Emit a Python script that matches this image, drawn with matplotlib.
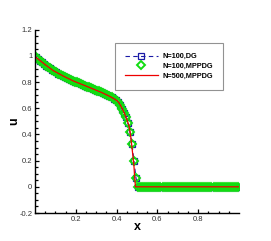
import numpy as np
import matplotlib
matplotlib.use("Agg")
from matplotlib import pyplot as plt

plt.rcParams['font.family'] = ['Liberation Sans', 'DejaVu Sans']

# cell centres for N=100
x100 = np.arange(100) * 0.01 + 0.005

# smooth (rarefaction) part, x = 0.005 .. 0.395
u_smooth = [0.990, 0.976, 0.963, 0.950, 0.938, 0.926, 0.915, 0.904, 0.893, 0.883,
            0.874, 0.865, 0.856, 0.848, 0.840, 0.832, 0.825, 0.818, 0.811, 0.804,
            0.798, 0.791, 0.785, 0.779, 0.772, 0.766, 0.760, 0.753, 0.747, 0.741,
            0.735, 0.728, 0.721, 0.714, 0.707, 0.700, 0.692, 0.683, 0.673, 0.661]
# front, x = 0.405 .. 0.495
u_dg_front = [0.645, 0.622, 0.596, 0.565, 0.530, 0.485, 0.420, 0.330, 0.200, 0.068]
u_mppdg_front = [0.645, 0.622, 0.595, 0.565, 0.530, 0.484, 0.420, 0.330, 0.200, 0.065]
# x = 0.505 .. 0.995
u_right = [0.0] * 50

u_dg = u_smooth + u_dg_front + u_right
u_mppdg = u_smooth + u_mppdg_front + u_right

# N=500 reference
x500 = [0.001, 0.02, 0.05, 0.09, 0.14, 0.19, 0.24, 0.29, 0.33, 0.37, 0.39, 0.40,
        0.41, 0.42, 0.43, 0.44, 0.45, 0.46, 0.465, 0.47, 0.475, 0.48, 0.485,
        0.488, 0.491, 0.493, 0.999]
u500 = [0.993, 0.970, 0.933, 0.887, 0.845, 0.807, 0.776, 0.744, 0.718, 0.688,
        0.670, 0.660, 0.645, 0.620, 0.590, 0.555, 0.515, 0.470, 0.430, 0.375,
        0.305, 0.235, 0.160, 0.085, 0.025, 0.0, 0.0]

labels = ['N=100,DG', 'N=100,MPPDG', 'N=500,MPPDG']

fig = plt.figure(figsize=(2.71, 2.41), dpi=100)
ax = fig.add_axes([35/271, 1 - 213/241, 204/271, 183.3/241])

ax.plot(x100, u_dg, color='#1a1aa6', ls=(0, (4, 3)), lw=0.8, marker='s', ms=4.0,
        mfc='none', mec='#1a1aa6', mew=0.9, label=labels[0])
ax.plot(x100, u_mppdg, ls='none', marker='D', ms=4.3, mfc='none', mec='#11dd11',
        mew=1.4, label=labels[1])
ax.plot(x500, u500, color='#ee0000', lw=0.9, label=labels[2])

ax.set_xlim(0, 1)
ax.set_ylim(-0.2, 1.2)
ax.set_xticks([0.2, 0.4, 0.6, 0.8])
ax.set_xticklabels(['0.2', '0.4', '0.6', '0.8'])
ax.set_xticks([0.05, 0.1, 0.15, 0.25, 0.3, 0.35, 0.45, 0.5, 0.55, 0.65, 0.7, 0.75,
               0.85, 0.9, 0.95], minor=True)
yt = [-0.2, 0, 0.2, 0.4, 0.6, 0.8, 1.0, 1.2]
ax.set_yticks(yt)
ax.set_yticklabels(['-0.2', '0', '0.2', '0.4', '0.6', '0.8', '1', '1.2'])
ax.set_yticks([v for v in np.arange(-0.15, 1.2, 0.05) if abs(v * 5 - round(v * 5)) > 1e-6],
              minor=True)

for s in ['top', 'right']:
    ax.spines[s].set_visible(False)
for s in ['left', 'bottom']:
    ax.spines[s].set_linewidth(1.0)
ax.tick_params(which='both', direction='in', width=0.9, colors='black',
               labelcolor='#333333', labelsize=5.5)
ax.tick_params(which='major', length=3, pad=2)
ax.tick_params(which='minor', length=1.8)

ax.set_xlabel('x', fontsize=9, fontweight='bold', labelpad=-1)
ax.set_ylabel('u', fontsize=9, fontweight='bold', labelpad=-1)

leg = ax.legend(loc='upper left', bbox_to_anchor=(0.392, 0.927),
                prop={'weight': 'bold', 'size': 5.3}, frameon=True, fancybox=False,
                handlelength=4.5, handletextpad=0.6, borderpad=1.35, labelspacing=0.35,
                borderaxespad=0)
leg.get_frame().set_edgecolor('#777777')
leg.get_frame().set_linewidth(0.8)

fig.savefig('out.png', dpi=100)
